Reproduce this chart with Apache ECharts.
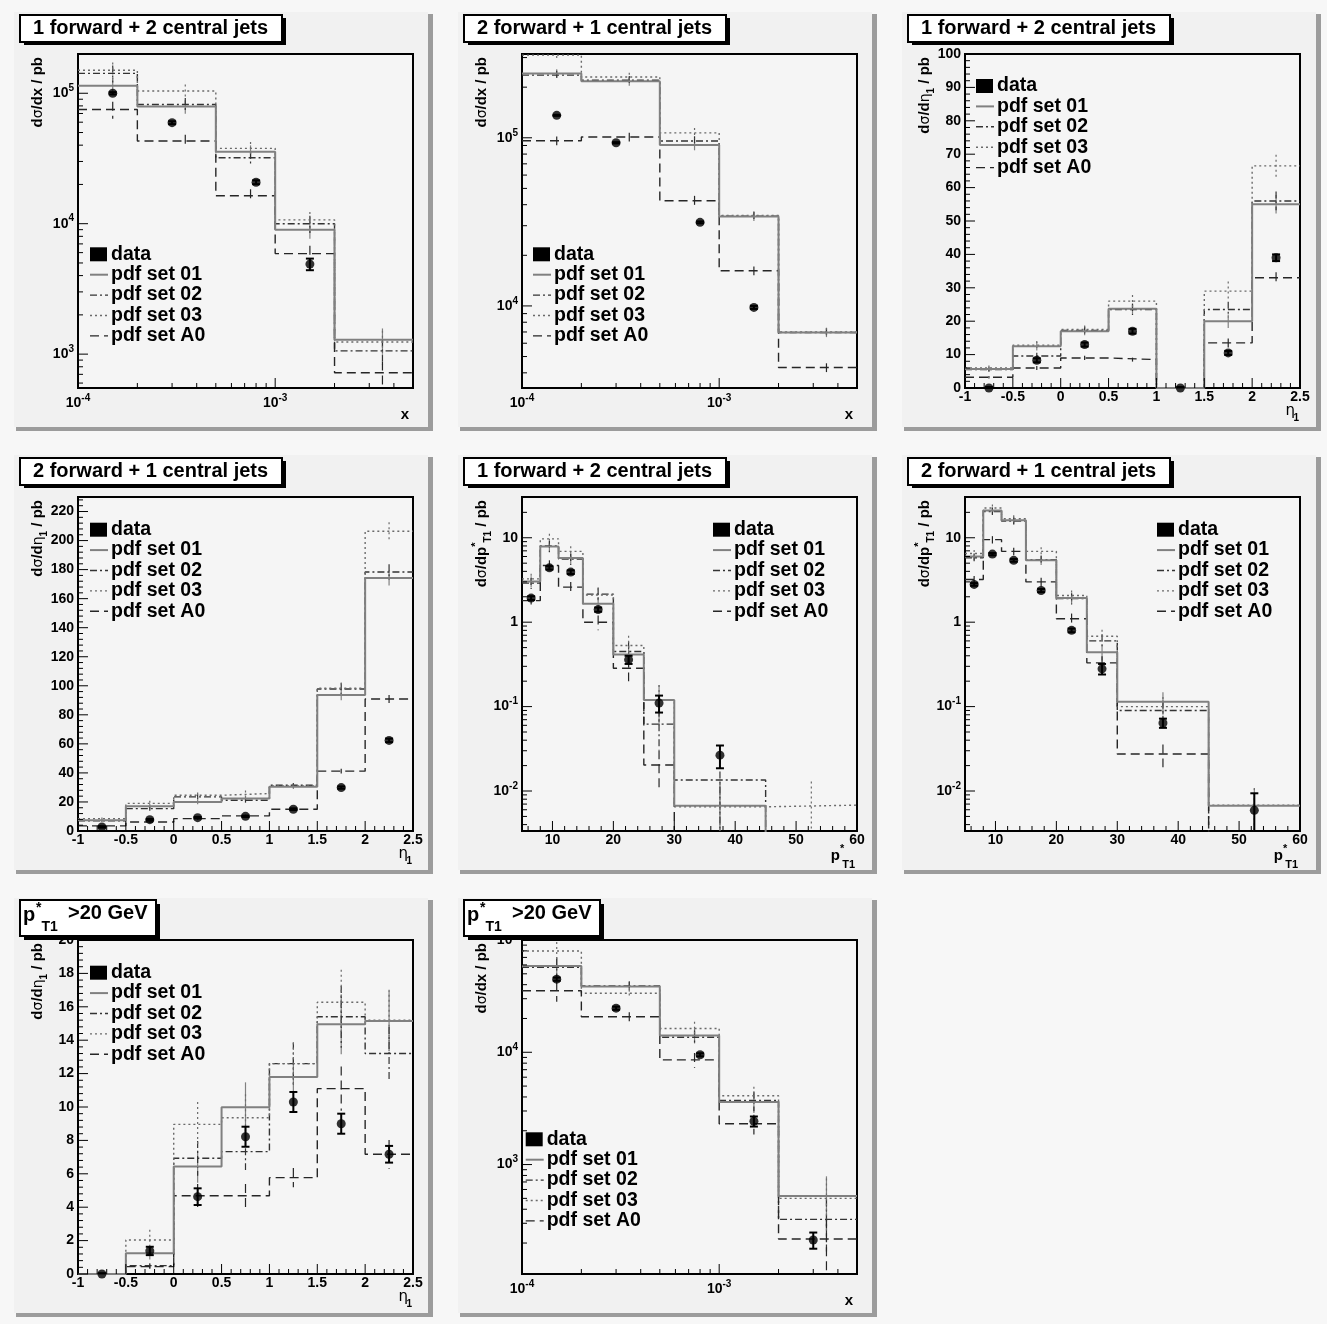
<!DOCTYPE html>
<html><head><meta charset="utf-8">
<script src="https://cdn.jsdelivr.net/npm/echarts@6/dist/echarts.min.js"></script>
<style>html,body{margin:0;padding:0;background:#f7f7f7}#main{width:1327px;height:1324px}</style>
</head><body><div id="main"></div>
<script>
// ---------------- data ----------------
const xBinEdges = [1e-4, 2e-4, 5e-4, 1e-3, 2e-3, 5e-3];
const xBinCenters = [1.5e-4, 3.5e-4, 7.5e-4, 1.5e-3, 3.5e-3];
const etaBinEdges = [-1, -0.5, 0, 0.5, 1, 1.5, 2, 2.5];
const etaBinCenters = [-0.75, -0.25, 0.25, 0.75, 1.25, 1.75, 2.25];
const ptBinEdges = [5, 8, 11, 15, 20, 25, 30, 45, 60];
const ptBinCenters = [6.5, 9.5, 13, 17.5, 22.5, 27.5, 37.5, 52.5];
const legendNames = ['data', 'pdf set 01', 'pdf set 02', 'pdf set 03', 'pdf set A0'];

// panel 1: 1 forward + 2 central, dsigma/dx
const p1Set01 = [1.14e5, 7.9e4, 3.56e4, 9.0e3, 1.29e3];
const p1Set02 = [1.42e5, 8.2e4, 3.2e4, 1.0e4, 1.06e3];
const p1Set03 = [1.5e5, 1.04e5, 3.78e4, 1.07e4, 1.24e3];
const p1SetA0 = [7.5e4, 4.3e4, 1.64e4, 5.9e3, 7.2e2];
const p1McErr = [0.15, 0.12, 0.12, 0.15, 0.22];
const p1DataX = [1.5e-4, 3e-4, 8e-4, 1.5e-3];
const p1DataY = [1.0e5, 5.95e4, 2.08e4, 4.9e3];
const p1DataErr = [2e3, 1.5e3, 7e2, 5e2];

// panel 2: 2 forward + 1 central, dsigma/dx
const p2Set01 = [2.41e5, 2.17e5, 9.06e4, 3.4e4, 6.94e3];
const p2Set02 = [2.36e5, 2.2e5, 9.56e4, 3.42e4, 6.95e3];
const p2Set03 = [3.1e5, 2.3e5, 1.07e5, 3.45e4, 7.0e3];
const p2SetA0 = [9.6e4, 1.01e5, 4.22e4, 1.62e4, 4.3e3];
const p2McErr = [0.06, 0.06, 0.07, 0.06, 0.06];
const p2DataX = [1.5e-4, 3e-4, 8e-4, 1.5e-3];
const p2DataY = [1.36e5, 9.34e4, 3.14e4, 9.8e3];
const p2DataErr = [1e3, 8e2, 4e2, 2e2];

// panel 3: 1 forward + 2 central, dsigma/deta
const p3Set01 = [5.7, 12.5, 17.0, 23.7, 0, 20.0, 55.0];
const p3Set02 = [5.5, 9.6, 17.2, 23.5, 0, 23.5, 56.0];
const p3Set03 = [6.0, 12.8, 17.5, 26.0, 0, 29.0, 66.5];
const p3SetA0 = [3.2, 6.0, 9.0, 8.5, 0, 13.5, 33.0];
const p3McErr = [0.12, 0.1, 0.07, 0.07, 0, 0.1, 0.05];
const p3DataY = [0, 8.3, 13.0, 17.0, 0, 10.5, 39.0];
const p3DataErr = [0.3, 0.6, 0.6, 0.7, 0.3, 0.6, 1.0];

// panel 4: 2 forward + 1 central, dsigma/deta
const p4Set01 = [7.4, 17.0, 20.0, 22.3, 30.4, 93.7, 174.2];
const p4Set02 = [7.0, 15.4, 23.5, 21.2, 31.5, 97.8, 178.4];
const p4Set03 = [8.5, 19.0, 24.6, 25.8, 31.0, 98.3, 206.4];
const p4SetA0 = [3.5, 6.2, 8.5, 10.4, 15.0, 41.2, 90.9];
const p4McErr = [0.1, 0.1, 0.08, 0.08, 0.05, 0.04, 0.03];
const p4DataY = [2.8, 7.8, 9.2, 10.1, 15.0, 29.9, 62.4];
const p4DataErr = [0.5, 0.5, 0.5, 0.5, 0.6, 0.8, 1.2];

// panel 5: 1 forward + 2 central, dsigma/dpT
const p5Set01 = [3.04, 7.9, 5.74, 1.65, 0.414, 0.12, 6.7e-3, 0];
const p5Set02 = [2.9, 8.0, 5.6, 2.15, 0.45, 0.062, 1.35e-2, 0];
const p5Set03 = [3.26, 9.7, 6.9, 2.1, 0.53, 0.12, 6.5e-3, 6.8e-3];
const p5SetA0 = [1.8, 4.7, 2.6, 1.0, 0.285, 0.0203, 0, 0];
const p5McErr = [0.15, 0.15, 0.15, 0.2, 0.3, 0.5, 0.9, 0.9];
const p5DataX = [6.5, 9.5, 13, 17.5, 22.5, 27.5, 37.5];
const p5DataY = [1.93, 4.4, 3.92, 1.41, 0.36, 0.11, 0.0266];
const p5DataErr = [0.1, 0.2, 0.2, 0.08, 0.04, 0.025, 0.008];

// panel 6: 2 forward + 1 central, dsigma/dpT
const p6Set01 = [6.0, 21.0, 16.1, 5.4, 1.94, 0.44, 0.114, 6.7e-3];
const p6Set02 = [5.8, 20.5, 15.8, 5.5, 1.9, 0.6, 0.09, 0];
const p6Set03 = [6.5, 22.5, 16.8, 6.9, 2.07, 0.68, 0.10, 6.8e-3];
const p6SetA0 = [3.2, 9.5, 6.9, 3.0, 1.1, 0.33, 0.0274, 0];
const p6McErr = [0.1, 0.1, 0.1, 0.12, 0.15, 0.2, 0.3, 0.6];
const p6DataX = [6.5, 9.5, 13, 17.5, 22.5, 27.5, 37.5, 52.5];
const p6DataY = [2.8, 6.4, 5.4, 2.37, 0.8, 0.28, 0.064, 0.0059];
const p6DataErr = [0.1, 0.2, 0.2, 0.1, 0.04, 0.04, 0.008, 0.0035];

// panel 7: pT > 20 GeV, dsigma/deta
const p7Set01 = [0, 1.24, 6.43, 9.98, 11.8, 14.95, 15.15];
const p7Set02 = [0, 0.5, 6.93, 7.33, 12.6, 15.4, 13.2];
const p7Set03 = [0, 2.04, 8.96, 9.36, 12.6, 16.27, 15.2];
const p7SetA0 = [0, 0.44, 4.69, 4.69, 5.77, 11.1, 7.17];
const p7McErr = [0, 0.3, 0.15, 0.15, 0.1, 0.12, 0.12];
const p7DataY = [0, 1.38, 4.63, 8.22, 10.3, 9.0, 7.17];
const p7DataErr = [0.05, 0.25, 0.5, 0.6, 0.6, 0.6, 0.5];

// panel 8: pT > 20 GeV, dsigma/dx
const p8Set01 = [5.88e4, 3.85e4, 1.41e4, 3.6e3, 524];
const p8Set02 = [5.7e4, 3.9e4, 1.36e4, 3.73e3, 325];
const p8Set03 = [7.98e4, 3.36e4, 1.63e4, 4.1e3, 500];
const p8SetA0 = [3.53e4, 2.07e4, 8.55e3, 2.31e3, 217];
const p8McErr = [0.2, 0.1, 0.15, 0.2, 0.5];
const p8DataX = [1.5e-4, 3e-4, 8e-4, 1.5e-3, 3e-3];
const p8DataY = [4.48e4, 2.47e4, 9.5e3, 2.43e3, 213];
const p8DataErr = [1.5e3, 8e2, 3e2, 2.5e2, 35];

// ---------------- layout / style ----------------
const FONT = 'Liberation Sans';
const colLeft = [78, 522, 965];
const rowTop = [54, 497, 940];
const GW = 335, GH = 334;
const padLeft = [14, 458, 902];
const padTop = [12, 455, 898];
const PADW = 419, PADH = 419;

const setStyles = [
  { color: '#808080', width: 2, dash: null },
  { color: '#333333', width: 1.4, dash: [7, 3, 2, 3] },
  { color: '#6a6a6a', width: 1.4, dash: [2, 3] },
  { color: '#262626', width: 1.4, dash: [9, 5] }
];

const xKinds = {
  x: { log: true, min: 1e-4, max: 5e-3, edges: xBinEdges, centers: xBinCenters },
  eta: { log: false, min: -1, max: 2.5, step: 0.5, major: 0.5, minor: 0.1, edges: etaBinEdges, centers: etaBinCenters,
         fmt: v => String(Math.round(v * 10) / 10) },
  pt: { log: false, min: 5, max: 60, step: 5, major: 10, minor: 2, edges: ptBinEdges, centers: ptBinCenters,
        fmt: v => (Math.round(v) % 10 === 0 ? String(Math.round(v)) : '') }
};

const panels = [
  { title: '1 forward + 2 central jets', xKind: 'x', yLog: true, yMin: 550, yMax: 2e5, yTitle: 'dx',
    sets: [p1Set01, p1Set02, p1Set03, p1SetA0], mcErr: p1McErr, dx: p1DataX, dy: p1DataY, de: p1DataErr, legend: [111, 254.3] },
  { title: '2 forward + 1 central jets', xKind: 'x', yLog: true, yMin: 3250, yMax: 3.15e5, yTitle: 'dx',
    sets: [p2Set01, p2Set02, p2Set03, p2SetA0], mcErr: p2McErr, dx: p2DataX, dy: p2DataY, de: p2DataErr, legend: [554, 254.3] },
  { title: '1 forward + 2 central jets', xKind: 'eta', yLog: false, yMin: 0, yMax: 100, yMajor: 10, yMinor: 2, yTitle: 'deta',
    sets: [p3Set01, p3Set02, p3Set03, p3SetA0], mcErr: p3McErr, dx: etaBinCenters, dy: p3DataY, de: p3DataErr, legend: [997, 86] },
  { title: '2 forward + 1 central jets', xKind: 'eta', yLog: false, yMin: 0, yMax: 230, yMajor: 20, yMinor: 4, yTitle: 'deta',
    sets: [p4Set01, p4Set02, p4Set03, p4SetA0], mcErr: p4McErr, dx: etaBinCenters, dy: p4DataY, de: p4DataErr, legend: [111, 529.7] },
  { title: '1 forward + 2 central jets', xKind: 'pt', yLog: true, yMin: 3.36e-3, yMax: 30.4, yTitle: 'dpt',
    sets: [p5Set01, p5Set02, p5Set03, p5SetA0], mcErr: p5McErr, dx: p5DataX, dy: p5DataY, de: p5DataErr, legend: [734, 529.7] },
  { title: '2 forward + 1 central jets', xKind: 'pt', yLog: true, yMin: 3.36e-3, yMax: 30.4, yTitle: 'dpt',
    sets: [p6Set01, p6Set02, p6Set03, p6SetA0], mcErr: p6McErr, dx: p6DataX, dy: p6DataY, de: p6DataErr, legend: [1178, 529.7] },
  { title: 'pt', xKind: 'eta', yLog: false, yMin: 0, yMax: 20, yMajor: 2, yMinor: 0.4, yTitle: 'deta',
    sets: [p7Set01, p7Set02, p7Set03, p7SetA0], mcErr: p7McErr, dx: etaBinCenters, dy: p7DataY, de: p7DataErr, legend: [111, 972.7] },
  { title: 'pt', xKind: 'x', yLog: true, yMin: 106, yMax: 1e5, yTitle: 'dx',
    sets: [p8Set01, p8Set02, p8Set03, p8SetA0], mcErr: p8McErr, dx: p8DataX, dy: p8DataY, de: p8DataErr, legend: [546.7, 1139.3] }
];

// ---------------- helpers ----------------
const labelRich = {
  b: { fontFamily: FONT, fontWeight: 'bold', fontSize: 14, lineHeight: 16, verticalAlign: 'middle', color: '#000' },
  s: { fontFamily: FONT, fontWeight: 'bold', fontSize: 10, lineHeight: 10, verticalAlign: 'middle', padding: [0, 0, 10, 0], color: '#000' }
};
function powLabel(v) {
  const l = Math.log10(v);
  const e = Math.round(l);
  if (Math.abs(l - e) > 1e-6) return '';
  if (e === 0) return '{b|1}';
  if (e === 1) return '{b|10}';
  return '{b|10}{s|' + e + '}';
}
function histPoints(edges, vals, floor) {
  const pts = [];
  for (let k = 0; k < vals.length; k++) {
    const v = vals[k] > 0 ? vals[k] : floor;
    pts.push([edges[k], v], [edges[k + 1], v]);
  }
  return pts;
}
function logTicks(min, max) {
  const out = [];
  for (let e = Math.floor(Math.log10(min)) - 1; e <= Math.ceil(Math.log10(max)); e++) {
    for (let m = 1; m <= 9; m++) {
      const v = m * Math.pow(10, e);
      if (v >= min * 0.9999 && v <= max * 1.0001) out.push([v, m === 1 ? 1 : 0]);
    }
  }
  return out;
}
function linTicks(min, max, major, minor) {
  const out = [];
  const start = Math.ceil(min / minor - 1e-9);
  for (let k = start; k * minor <= max + 1e-9; k++) {
    const v = Math.round(k * minor * 1e6) / 1e6;
    const r = v / major;
    out.push([v, Math.abs(r - Math.round(r)) < 1e-6 ? 1 : 0]);
  }
  return out;
}
function tickRender(dir) {
  return function (params, api) {
    const cs = params.coordSys;
    const p = api.coord([api.value(0), api.value(1)]);
    const len = api.value(2) ? 10 : 5;
    if (dir === 'y') {
      return { type: 'line', shape: { x1: cs.x, y1: p[1], x2: cs.x + len, y2: p[1] }, style: { stroke: '#000', lineWidth: 1 } };
    }
    const yb = cs.y + cs.height;
    return { type: 'line', shape: { x1: p[0], y1: yb, x2: p[0], y2: yb - len }, style: { stroke: '#000', lineWidth: 1 } };
  };
}
function mcErrRender(st, floor) {
  return function (params, api) {
    const x = api.value(0), v = api.value(1), r = api.value(2);
    if (!(v > 0) || !(r > 0)) return null;
    let lo = v * (1 - r);
    if (lo < floor) lo = floor;
    const a = api.coord([x, v * (1 + r)]), b = api.coord([x, lo]);
    const style = { stroke: st.color, lineWidth: 1.2 };
    if (st.dash) style.lineDash = st.dash;
    return { type: 'line', shape: { x1: a[0], y1: a[1], x2: b[0], y2: b[1] }, style: style };
  };
}
function dataErrRender(floor) {
  return function (params, api) {
    const x = api.value(0), y = api.value(1), e = api.value(2);
    const a = api.coord([x, y + e]), b = api.coord([x, Math.max(y - e, floor)]);
    const c = 4, st = { stroke: '#000', lineWidth: 2 };
    return { type: 'group', children: [
      { type: 'line', shape: { x1: a[0], y1: a[1], x2: b[0], y2: b[1] }, style: st },
      { type: 'line', shape: { x1: a[0] - c, y1: a[1], x2: a[0] + c, y2: a[1] }, style: st },
      { type: 'line', shape: { x1: b[0] - c, y1: b[1], x2: b[0] + c, y2: b[1] }, style: st }
    ] };
  };
}
const titleRich = {
  b: { fontFamily: FONT, fontWeight: 'bold', fontSize: 15, lineHeight: 16, verticalAlign: 'middle', fill: '#000' },
  g: { fontFamily: 'DejaVu Sans', fontSize: 14, lineHeight: 16, verticalAlign: 'middle', fill: '#000' },
  sub: { fontFamily: FONT, fontWeight: 'bold', fontSize: 10, lineHeight: 10, verticalAlign: 'middle', padding: [12, 0, 0, 0], fill: '#000' },
  sup: { fontFamily: FONT, fontWeight: 'bold', fontSize: 11, lineHeight: 10, verticalAlign: 'middle', padding: [0, 0, 12, 0], fill: '#000' }
};
const yTitleText = {
  dx: '{b|d}{g|σ}{b|/dx / pb}',
  deta: '{b|d}{g|σ}{b|/d}{g|η}{sub|1}{b| / pb}',
  dpt: '{b|d}{g|σ}{b|/dp}{sup|*}{sub|T1}{b| / pb}'
};
function txt(x, y, text, font, align, extra) {
  return Object.assign({ type: 'text', x: x, y: y, z: 100,
    style: { text: text, font: font, fill: '#000', align: align || 'left', verticalAlign: 'middle' } }, extra || {});
}

// ---------------- option ----------------
const option = {
  backgroundColor: '#f7f7f7', animation: false,
  grid: [], xAxis: [], yAxis: [], series: [], graphic: { elements: [] }
};
const G = option.graphic.elements;

panels.forEach((p, i) => {
  const col = i % 3, row = Math.floor(i / 3);
  const gl = colLeft[col], gt = rowTop[row];
  const pl = padLeft[col], pt = padTop[row];
  const xk = xKinds[p.xKind];

  // pad with bevel shadow
  G.push({ type: 'rect', z: -10, shape: { x: pl, y: pt, width: PADW - 5, height: PADH - 4 }, style: { fill: '#f1f1f1' } });
  G.push({ type: 'rect', z: -10, shape: { x: pl + PADW - 5, y: pt + 2, width: 5, height: PADH - 2 }, style: { fill: '#9c9c9c' } });
  G.push({ type: 'rect', z: -10, shape: { x: pl + 2, y: pt + PADH - 4, width: PADW - 2, height: 4 }, style: { fill: '#9c9c9c' } });

  option.grid.push({ left: gl, top: gt, width: GW, height: GH, show: true, backgroundColor: '#f5f5f5',
    borderColor: '#000', borderWidth: 2, outerBoundsMode: 'none' });

  const xa = { gridIndex: i, type: xk.log ? 'log' : 'value', min: xk.min, max: xk.max,
    axisLine: { show: false }, axisTick: { show: false }, splitLine: { show: false }, minorTick: { show: false },
    axisLabel: { margin: xk.log ? 7 : 2, color: '#000', fontFamily: FONT, fontWeight: 'bold', fontSize: 14,
      formatter: xk.log ? powLabel : xk.fmt, rich: labelRich } };
  if (!xk.log) xa.interval = xk.step;
  option.xAxis.push(xa);

  const ya = { gridIndex: i, type: p.yLog ? 'log' : 'value', min: p.yMin, max: p.yMax,
    axisLine: { show: false }, axisTick: { show: false }, splitLine: { show: false }, minorTick: { show: false },
    axisLabel: { margin: 4, color: '#000', fontFamily: FONT, fontWeight: 'bold', fontSize: 14, rich: labelRich,
      formatter: p.yLog ? powLabel : (v => { const r = v / p.yMajor; return Math.abs(r - Math.round(r)) < 1e-6 ? String(Math.round(v * 100) / 100) : ''; }) } };
  if (!p.yLog) ya.interval = p.yMajor;
  option.yAxis.push(ya);

  const floor = p.yLog ? p.yMin * 1e-3 : 0;
  const errFloor = p.yLog ? p.yMin * 0.5 : -1e9;

  p.sets.forEach((vals, s) => {
    const st = setStyles[s];
    option.series.push({ type: 'line', xAxisIndex: i, yAxisIndex: i, data: histPoints(xk.edges, vals, floor),
      symbol: 'none', showSymbol: false, clip: true, silent: true, z: 3 + (s === 0 ? 0.1 : 0),
      lineStyle: { color: st.color, width: st.width, type: st.dash || 'solid' } });
    const mc = [];
    xk.centers.forEach((c, k) => { if (vals[k] > 0) mc.push([c, vals[k], p.mcErr[k]]); });
    option.series.push({ type: 'custom', xAxisIndex: i, yAxisIndex: i, clip: true, silent: true, z: 3,
      data: mc, encode: { x: 0, y: 1 }, renderItem: mcErrRender(st, errFloor) });
  });

  option.series.push({ type: 'custom', xAxisIndex: i, yAxisIndex: i, clip: true, silent: true, z: 4,
    data: p.dx.map((x, k) => [x, p.dy[k], p.de[k]]), encode: { x: 0, y: 1 }, renderItem: dataErrRender(errFloor) });
  option.series.push({ type: 'scatter', xAxisIndex: i, yAxisIndex: i, clip: false, silent: true, z: 5,
    data: p.dx.map((x, k) => [x, p.dy[k]]), symbol: 'circle', symbolSize: 9, itemStyle: { color: '#000' } });

  // ticks
  const yT = p.yLog ? logTicks(p.yMin, p.yMax) : linTicks(p.yMin, p.yMax, p.yMajor, p.yMinor);
  option.series.push({ type: 'custom', xAxisIndex: i, yAxisIndex: i, silent: true, z: 6,
    data: yT.map(t => [xk.min, t[0], t[1]]), encode: { x: 0, y: 1 }, renderItem: tickRender('y') });
  const xT = xk.log ? logTicks(xk.min, xk.max) : linTicks(xk.min, xk.max, xk.major, xk.minor);
  option.series.push({ type: 'custom', xAxisIndex: i, yAxisIndex: i, silent: true, z: 6,
    data: xT.map(t => [t[0], p.yMin, t[1]]), encode: { x: 0, y: 1 }, renderItem: tickRender('x') });

  // title box
  if (p.title === 'pt') {
    const bx = pl + 6, by = pt + 2, bw = 136, bh = 36;
    G.push({ type: 'rect', z: 99, shape: { x: bx + 4, y: by + 4, width: bw, height: bh }, style: { fill: '#000' } });
    G.push({ type: 'rect', z: 99, shape: { x: bx, y: by, width: bw, height: bh }, style: { fill: '#fff', stroke: '#000', lineWidth: 2 } });
    G.push(txt(bx + 3, by + 15, 'p', 'bold 20px "' + FONT + '"'));
    G.push(txt(bx + 16, by + 8, '*', 'bold 14px "' + FONT + '"'));
    G.push(txt(bx + 21.5, by + 27, 'T1', 'bold 14px "' + FONT + '"'));
    G.push(txt(bx + 48, by + 13, '>20 GeV', 'bold 20px "' + FONT + '"'));
  } else {
    const bx = pl + 6, by = pt + 3, bw = 262, bh = 27;
    G.push({ type: 'rect', z: 99, shape: { x: bx + 4, y: by + 3, width: bw, height: bh }, style: { fill: '#000' } });
    G.push({ type: 'rect', z: 99, shape: { x: bx, y: by, width: bw, height: bh }, style: { fill: '#fff', stroke: '#000', lineWidth: 2 } });
    G.push(txt(bx + 13, by + 13.5, p.title, 'bold 20px "' + FONT + '"'));
  }

  // y axis title (rotated)
  G.push({ type: 'text', x: gl - 40, y: gt + 3, rotation: Math.PI / 2, z: 100,
    style: { text: yTitleText[p.yTitle], rich: titleRich, align: 'right', verticalAlign: 'middle', fill: '#000' } });

  // x axis title
  const gr = gl + GW, gb = gt + GH;
  if (p.xKind === 'x') {
    G.push(txt(gr - 4, gb + 27, 'x', 'bold 15px "' + FONT + '"', 'right'));
  } else if (p.xKind === 'eta') {
    G.push(txt(gr - 5, gb + 23, 'η', '15px "DejaVu Sans"', 'right'));
    G.push(txt(gr - 1, gb + 30, '1', 'bold 10px "' + FONT + '"', 'right'));
  } else {
    G.push(txt(gr - 17, gb + 25, 'p', 'bold 15px "' + FONT + '"', 'right'));
    G.push(txt(gr - 17, gb + 18, '*', 'bold 11px "' + FONT + '"', 'left'));
    G.push(txt(gr - 2, gb + 34, 'T1', 'bold 11px "' + FONT + '"', 'right'));
  }

  // legend
  const tl = p.legend[0], ly0 = p.legend[1];
  legendNames.forEach((name, k) => {
    const cy = ly0 + k * 20.4;
    if (k === 0) {
      G.push({ type: 'rect', z: 100, shape: { x: tl - 21, y: cy - 7, width: 17, height: 14 }, style: { fill: '#000' } });
    } else {
      const st = setStyles[k - 1];
      const ls = { stroke: st.color, lineWidth: st.width };
      if (st.dash) ls.lineDash = st.dash;
      G.push({ type: 'line', z: 100, shape: { x1: tl - 21, y1: cy, x2: tl - 3, y2: cy }, style: ls });
    }
    G.push(txt(tl, cy, name, 'bold 19.5px "' + FONT + '"'));
  });
});

const chart = echarts.init(document.getElementById('main'), null, { renderer: 'canvas', width: 1327, height: 1324 });
chart.setOption(option);
</script>
</body></html>
